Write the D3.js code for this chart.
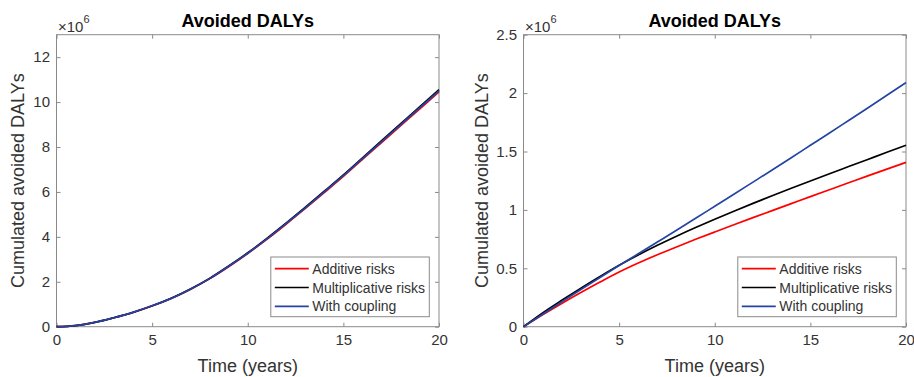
<!DOCTYPE html>
<html>
<head>
<meta charset="utf-8">
<script src="https://cdn.jsdelivr.net/npm/d3@7"></script>
<style>
  html, body { margin: 0; padding: 0; background: #fff; }
  svg { display: block; }
  text { font-family: "Liberation Sans", Arial, Helvetica, sans-serif; }
</style>
</head>
<body>
<svg id="chart" width="914" height="377"></svg>
<script>
// ---- Data (values in millions of DALYs) ----
const years = [0,1,2,3,4,5,6,7,8,9,10,11,12,13,14,15,16,17,18,19,20];

// Left panel
const leftAdditive =       [0,0.05,0.19,0.40,0.63,0.92,1.26,1.66,2.13,2.67,3.26,3.89,4.56,5.26,5.97,6.69,7.45,8.20,8.95,9.70,10.45];
const leftMultiplicative = [0,0.05,0.19,0.40,0.64,0.93,1.27,1.68,2.15,2.70,3.29,3.93,4.61,5.31,6.03,6.76,7.52,8.28,9.04,9.80,10.55];
const leftCoupling =       [0,0.05,0.19,0.40,0.64,0.93,1.26,1.67,2.14,2.69,3.27,3.91,4.59,5.28,6.00,6.73,7.48,8.24,9.00,9.75,10.50];

// Right panel
const rightAdditive =       [0,0.102,0.199,0.292,0.382,0.468,0.545,0.616,0.683,0.748,0.811,0.873,0.934,0.994,1.054,1.114,1.173,1.232,1.291,1.349,1.407];
const rightMultiplicative = [0,0.118,0.226,0.330,0.430,0.526,0.614,0.697,0.775,0.849,0.920,0.989,1.056,1.121,1.185,1.248,1.310,1.371,1.432,1.493,1.553];
const rightCoupling =       [0,0.107,0.213,0.318,0.422,0.524,0.624,0.725,0.826,0.928,1.031,1.134,1.238,1.342,1.447,1.553,1.659,1.766,1.873,1.981,2.090];

const xTicks = [0,5,10,15,20];
const leftYTicks = [0,2,4,6,8,10,12];
const rightYTicks = [0,0.5,1,1.5,2,2.5];
const leftYMax = 13;
const rightYMax = 2.5;

const seriesNames = ["Additive risks", "Multiplicative risks", "With coupling"];
const seriesColors = ["#ff0000", "#000000", "#2444a4"];

const title = "Avoided DALYs";
const xLabel = "Time (years)";
const yLabel = "Cumulated avoided DALYs";

// ---- Drawing ----
const svg = d3.select("#chart");
const axisColor = "#8a8a8a";
const textColor = "#333333";
const FONT = '"Liberation Sans", Arial, Helvetica, sans-serif';

function panel(cfg) {
  const x = d3.scaleLinear().domain([0, 20]).range([cfg.x0, cfg.x1]);
  const y = d3.scaleLinear().domain([0, cfg.yMax]).range([326.7, 34.7]);
  const g = svg.append("g");

  // Box
  g.append("rect")
    .attr("x", cfg.x0).attr("y", y(cfg.yMax))
    .attr("width", cfg.x1 - cfg.x0).attr("height", y(0) - y(cfg.yMax))
    .attr("fill", "none").attr("stroke", axisColor).attr("stroke-width", 1);

  const tl = 4;
  const xb = g.append("g").attr("transform", `translate(0,${y(0)})`)
    .call(d3.axisBottom(x).tickValues(cfg.xTicks).tickSize(-tl).tickPadding(10).tickFormat(d3.format("d")));
  const xt = g.append("g").attr("transform", `translate(0,${y(cfg.yMax)})`)
    .call(d3.axisTop(x).tickValues(cfg.xTicks).tickSize(-tl).tickFormat(""));
  const yl = g.append("g").attr("transform", `translate(${cfg.x0},0)`)
    .call(d3.axisLeft(y).tickValues(cfg.yTicks).tickSize(-tl).tickPadding(10).tickFormat(d => String(d)));
  const yr = g.append("g").attr("transform", `translate(${cfg.x1},0)`)
    .call(d3.axisRight(y).tickValues(cfg.yTicks).tickSize(-tl).tickFormat(""));

  [xb, xt, yl, yr].forEach(a => {
    a.select(".domain").remove();
    a.selectAll(".tick line").attr("stroke", axisColor);
    a.selectAll(".tick text").attr("fill", textColor)
      .style("font-family", FONT)
      .style("font-size", "15px");
  });
  xb.selectAll(".tick text").attr("dy", "0.71em").attr("y", 8);
  yl.selectAll(".tick text").attr("x", -6.5);

  // Lines
  const line = d3.line().x((d, i) => x(years[i])).y(d => y(d)).curve(d3.curveMonotoneX);
  cfg.series.forEach((s, i) => {
    g.append("path").datum(s)
      .attr("fill", "none").attr("stroke", seriesColors[i])
      .attr("stroke-width", 1.7).attr("stroke-linejoin", "round")
      .attr("d", line);
  });

  // Title
  g.append("text").attr("x", (cfg.x0 + cfg.x1) / 2).attr("y", 26.5)
    .attr("text-anchor", "middle").style("font-size", "18px").style("font-weight", "bold")
    .attr("fill", "#000").text(title);

  // x label
  g.append("text").attr("x", (cfg.x0 + cfg.x1) / 2).attr("y", 372)
    .attr("text-anchor", "middle").style("font-size", "18px").attr("fill", textColor).text(xLabel);

  // y label
  g.append("text")
    .attr("transform", `translate(${cfg.yLabelX},${(y(0) + y(cfg.yMax)) / 2}) rotate(-90)`)
    .attr("text-anchor", "middle").style("font-size", "18px").attr("fill", textColor).text(yLabel);

  // exponent
  const ex = g.append("text").attr("x", cfg.x0 + 1.5).attr("y", 31.5)
    .style("font-size", "15px").attr("fill", textColor);
  ex.append("tspan").style("font-size", "15px").text("\u00d710");
  ex.append("tspan").attr("dy", -8.5).style("font-size", "11px").text("6");

  // Legend
  const lw = 158.5, lh = 59.7;
  const lx = cfg.x1 - 9.7 - lw, ly = y(0) - 10 - lh;
  const lg = g.append("g");
  lg.append("rect").attr("x", lx).attr("y", ly).attr("width", lw).attr("height", lh)
    .attr("fill", "#fff").attr("stroke", axisColor).attr("stroke-width", 1);
  seriesNames.forEach((n, i) => {
    const cy = ly + 11.7 + i * 18.8;
    lg.append("line").attr("x1", lx + 4).attr("x2", lx + 38).attr("y1", cy).attr("y2", cy)
      .attr("stroke", seriesColors[i]).attr("stroke-width", 1.7);
    lg.append("text").attr("x", lx + 41.5).attr("y", cy + 5)
      .style("font-size", "14px").attr("fill", textColor).text(n);
  });
}

panel({ x0: 56.5, x1: 439, yMax: leftYMax, yTicks: leftYTicks, xTicks: xTicks,
        series: [leftAdditive, leftMultiplicative, leftCoupling], yLabelX: 24 });
panel({ x0: 523.5, x1: 906, yMax: rightYMax, yTicks: rightYTicks, xTicks: xTicks,
        series: [rightAdditive, rightMultiplicative, rightCoupling], yLabelX: 488 });
</script>
</body>
</html>
